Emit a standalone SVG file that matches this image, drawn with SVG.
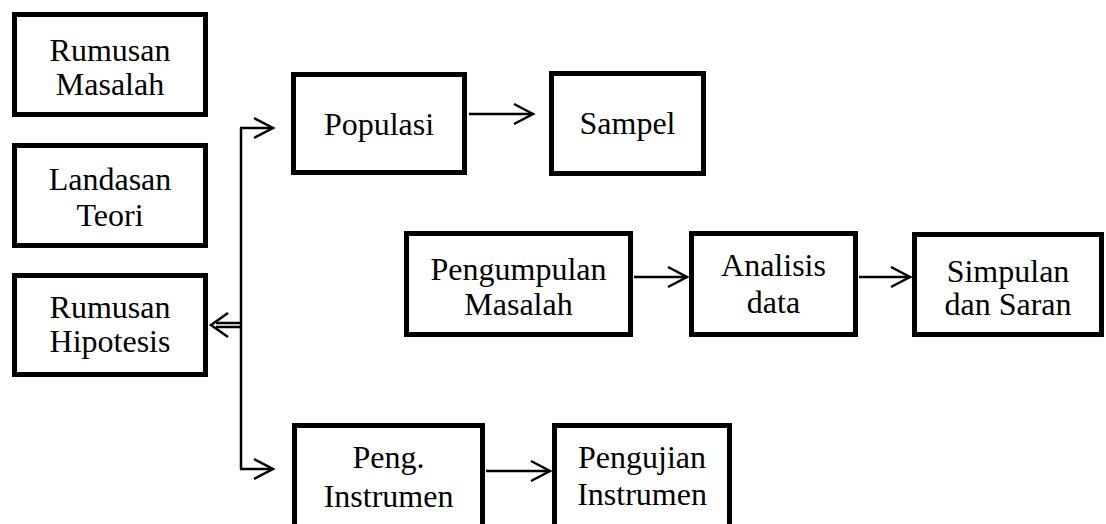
<svg xmlns="http://www.w3.org/2000/svg" width="1106" height="524" viewBox="0 0 1106 524">
<style>
.box{fill:#fff;stroke:#000;stroke-width:5}
.t{font-family:"Liberation Serif","Times New Roman",serif;font-size:32px;fill:#000;text-anchor:middle}
.c{fill:none;stroke:#000;stroke-width:2.5}
</style>
<defs>
<marker id="ah" markerUnits="userSpaceOnUse" markerWidth="24" markerHeight="24" refX="19" refY="10" orient="auto" viewBox="-2 -2 24 24">
<path d="M0,0 L19,10 L0,20" fill="none" stroke="#000" stroke-width="2.5"/>
</marker>
</defs>
<rect width="1106" height="524" fill="#fff"/>
<g id="rumusan-masalah"><rect class="box" x="14.5" y="14.5" width="191" height="100"/><text class="t" x="110" y="61">Rumusan</text><text class="t" x="110" y="95">Masalah</text></g>
<g id="landasan-teori"><rect class="box" x="14.5" y="145.5" width="191" height="100"/><text class="t" x="110" y="190">Landasan</text><text class="t" x="110" y="226">Teori</text></g>
<g id="rumusan-hipotesis"><rect class="box" x="14.5" y="275.5" width="191" height="99"/><text class="t" x="110" y="318">Rumusan</text><text class="t" x="110" y="352">Hipotesis</text></g>
<g id="populasi"><rect class="box" x="293.5" y="74.5" width="171" height="98"/><text class="t" x="379" y="135">Populasi</text></g>
<g id="sampel"><rect class="box" x="551.5" y="73.5" width="152" height="100"/><text class="t" x="627.5" y="134">Sampel</text></g>
<g id="pengumpulan-masalah"><rect class="box" x="406.5" y="233.5" width="224" height="101"/><text class="t" x="518.5" y="280">Pengumpulan</text><text class="t" x="518.5" y="315">Masalah</text></g>
<g id="analisis-data"><rect class="box" x="691.5" y="233.5" width="164" height="101"/><text class="t" x="773.5" y="276">Analisis</text><text class="t" x="773.5" y="313">data</text></g>
<g id="simpulan-saran"><rect class="box" x="914.5" y="234.5" width="187" height="100"/><text class="t" x="1008" y="282">Simpulan</text><text class="t" x="1008" y="315">dan Saran</text></g>
<g id="peng-instrumen"><rect class="box" x="294.5" y="425.5" width="188" height="110"/><text class="t" x="388.5" y="468">Peng.</text><text class="t" x="388.5" y="507">Instrumen</text></g>
<g id="pengujian-instrumen"><rect class="box" x="554.5" y="425.5" width="175" height="110"/><text class="t" x="642" y="468">Pengujian</text><text class="t" x="642" y="505">Instrumen</text></g>
<g id="connectors">
<path class="c" d="M241,128 V469"/>
<line class="c" x1="240" y1="128" x2="273" y2="128" marker-end="url(#ah)"/>
<line class="c" x1="240" y1="469" x2="273" y2="469" marker-end="url(#ah)"/>
<path class="c" d="M241,323 H216 M241,327 H216"/>
<path class="c" d="M228,313 L211,325 L228,337"/>
<line class="c" x1="469" y1="114" x2="533" y2="114" marker-end="url(#ah)"/>
<line class="c" x1="634" y1="277" x2="687" y2="277" marker-end="url(#ah)"/>
<line class="c" x1="859" y1="277" x2="910" y2="277" marker-end="url(#ah)"/>
<line class="c" x1="486" y1="471" x2="550" y2="471" marker-end="url(#ah)"/>
</g>
</svg>
